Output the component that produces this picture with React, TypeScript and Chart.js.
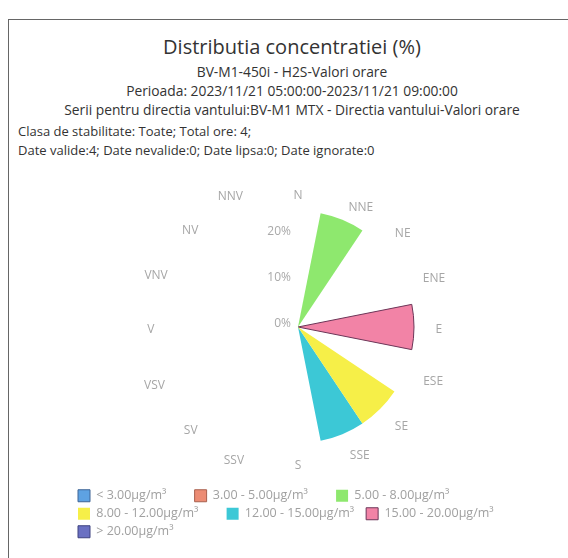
import { useEffect, useRef } from 'react';
import { Chart, registerables } from 'chart.js';

Chart.register(...registerables);

// ---- data ----
const directions = ['N', 'NNE', 'NE', 'ENE', 'E', 'ESE', 'SE', 'SSE', 'S', 'SSV', 'SV', 'VSV', 'V', 'VNV', 'NV', 'NNV'];

const binLabels = [
  '< 3.00µg/m³',
  '3.00 - 5.00µg/m³',
  '5.00 - 8.00µg/m³',
  '8.00 - 12.00µg/m³',
  '12.00 - 15.00µg/m³',
  '15.00 - 20.00µg/m³',
  '> 20.00µg/m³',
];

// percentage of hours per direction for each concentration bin
const binBelow3 = [0, 0, 0, 0, 0, 0, 0, 0, 0, 0, 0, 0, 0, 0, 0, 0];
const bin3to5 = [0, 0, 0, 0, 0, 0, 0, 0, 0, 0, 0, 0, 0, 0, 0, 0];
const bin5to8 = [0, 25, 0, 0, 0, 0, 0, 0, 0, 0, 0, 0, 0, 0, 0, 0];
const bin8to12 = [0, 0, 0, 0, 0, 0, 25, 0, 0, 0, 0, 0, 0, 0, 0, 0];
const bin12to15 = [0, 0, 0, 0, 0, 0, 0, 25, 0, 0, 0, 0, 0, 0, 0, 0];
const bin15to20 = [0, 0, 0, 0, 25, 0, 0, 0, 0, 0, 0, 0, 0, 0, 0, 0];
const binAbove20 = [0, 0, 0, 0, 0, 0, 0, 0, 0, 0, 0, 0, 0, 0, 0, 0];

const radialTicks = [0, 10, 20];
const radialMax = 25;

const titleText = 'Distributia concentratiei (%)';
const subtitleLines = [
  'BV-M1-450i - H2S-Valori orare',
  'Perioada: 2023/11/21 05:00:00-2023/11/21 09:00:00',
  'Serii pentru directia vantului:BV-M1 MTX - Directia vantului-Valori orare',
];
const infoLines = [
  'Clasa de stabilitate: Toate; Total ore: 4;',
  'Date valide:4; Date nevalide:0; Date lipsa:0; Date ignorate:0',
];

// ---- styles ----
const binColors = ['#5ea2e2', '#ec8c74', '#8ee86e', '#f6ef48', '#3cc8d6', '#f283a6', '#6a70c2'];
const binBorders = ['#3f6596', '#a8604e', '#8ee86e', '#f6ef48', '#3cc8d6', '#6c3658', '#3e4280'];
const binBorderWidths = [1, 1, 0, 0, 0, 1, 1];
// trailing gap (in spaces) after each legend item
const legendGaps = [7, 7, 0, 7, 2, 0, 0];
// distance of each direction label beyond the rim (px)
const labelOffsets = [18, 16, 21, 19, 21.5, 19.5, 21, 19.5, 20, 25, 26, 28, 27.5, 25, 25, 28];
const FONT = '"Open Sans", sans-serif';

const roseLabelsPlugin = {
  id: 'roseLabels',
  afterDraw(chart: any) {
    const scale = chart.scales.r;
    const ctx = chart.ctx;
    const labels: string[] = chart.data.labels;
    const n = labels.length;
    ctx.save();
    // direction labels, centred on each sector
    ctx.font = `12px ${FONT}`;
    ctx.fillStyle = '#a6a6a6';
    ctx.textBaseline = 'middle';
    labels.forEach((lbl, i) => {
      const p = scale.getPointPosition(i, scale.drawingArea + labelOffsets[i], Math.PI / n);
      const s = Math.sin(p.angle + Math.PI / 2);
      ctx.textAlign = Math.abs(s) < 0.01 ? 'center' : s > 0 ? 'left' : 'right';
      ctx.fillText(lbl, p.x, p.y + 3);
    });
    // radial tick labels
    ctx.fillStyle = '#a9a9a9';
    ctx.textAlign = 'right';
    radialTicks.forEach((v) => {
      const d = scale.getDistanceFromCenterForValue(v);
      ctx.fillText(`${v}%`, scale.xCenter - 7, scale.yCenter - d - 3);
    });
    ctx.restore();
  },
};

export default function App() {
  const canvasRef = useRef<HTMLCanvasElement>(null);

  useEffect(() => {
    const series = [binBelow3, bin3to5, bin5to8, bin8to12, bin12to15, bin15to20, binAbove20];
    const chart = new Chart(canvasRef.current as HTMLCanvasElement, {
      type: 'polarArea',
      data: {
        labels: directions,
        datasets: series.map((values, i) => ({
          label: binLabels[i],
          data: values,
          backgroundColor: binColors[i],
          borderColor: binBorders[i],
          borderWidth: (c: any) => (c.raw > 0 ? binBorderWidths[i] : 0),
        })),
      },
      options: {
        responsive: true,
        maintainAspectRatio: false,
        animation: false,
        layout: { padding: { left: 72.5, right: 44.5, top: 51, bottom: 10 } },
        scales: {
          r: {
            min: 0,
            max: radialMax,
            startAngle: -11.25,
            grid: { display: false },
            angleLines: { display: false },
            ticks: { display: false, stepSize: 10 },
            pointLabels: { display: false },
          },
        },
        plugins: {
          tooltip: { enabled: false },
          legend: {
            display: true,
            position: 'bottom',
            align: 'start',
            title: { display: true, text: '', padding: { top: 39.3, bottom: 0 }, font: { size: 1 } },
            labels: {
              boxWidth: 12,
              boxHeight: 12,
              padding: 5.5,
              color: '#a0a0a0',
              font: { family: FONT, size: 12.5 },
              generateLabels: (ch: any) =>
                ch.data.datasets.map((ds: any, i: number) => ({
                  text: ds.label + ' '.repeat(legendGaps[i]),
                  fillStyle: binColors[i],
                  strokeStyle: binBorders[i],
                  lineWidth: binBorderWidths[i],
                  hidden: false,
                  datasetIndex: i,
                  fontColor: '#a0a0a0',
                })),
            },
          },
        },
      } as any,
      plugins: [roseLabelsPlugin],
    });
    return () => chart.destroy();
  }, []);

  const centered = (top: number, size: number, text: string, key: string) => (
    <div
      key={key}
      style={{
        position: 'absolute',
        left: 16,
        width: 552,
        top,
        height: size * 1.4,
        lineHeight: `${size * 1.4}px`,
        fontSize: size,
        textAlign: 'center',
        color: '#333',
        whiteSpace: 'nowrap',
      }}
    >
      {text}
    </div>
  );

  return (
    <div
      style={{
        position: 'fixed',
        left: 0,
        top: 0,
        width: 568,
        height: 558,
        overflow: 'hidden',
        background: '#fff',
        fontFamily: FONT,
      }}
    >
      <div
        style={{
          position: 'absolute',
          left: 8,
          top: 19,
          width: 700,
          height: 700,
          borderLeft: '1.5px solid #666',
          borderTop: '1px solid #666',
        }}
      />
      {centered(47 - 14, 20, titleText, 't')}
      {subtitleLines.map((s, i) => centered([72, 91, 110][i] - 9.7, 13.8, s, 's' + i))}
      {infoLines.map((s, i) => (
        <div
          key={'i' + i}
          style={{
            position: 'absolute',
            left: 18,
            top: [131, 150][i] - 9,
            height: 18,
            lineHeight: '18px',
            fontSize: 13,
            color: '#333',
            whiteSpace: 'nowrap',
          }}
        >
          {s}
        </div>
      ))}
      <div style={{ position: 'absolute', left: 0, top: 160, width: 568, height: 398 }}>
        <canvas ref={canvasRef} />
      </div>
    </div>
  );
}
